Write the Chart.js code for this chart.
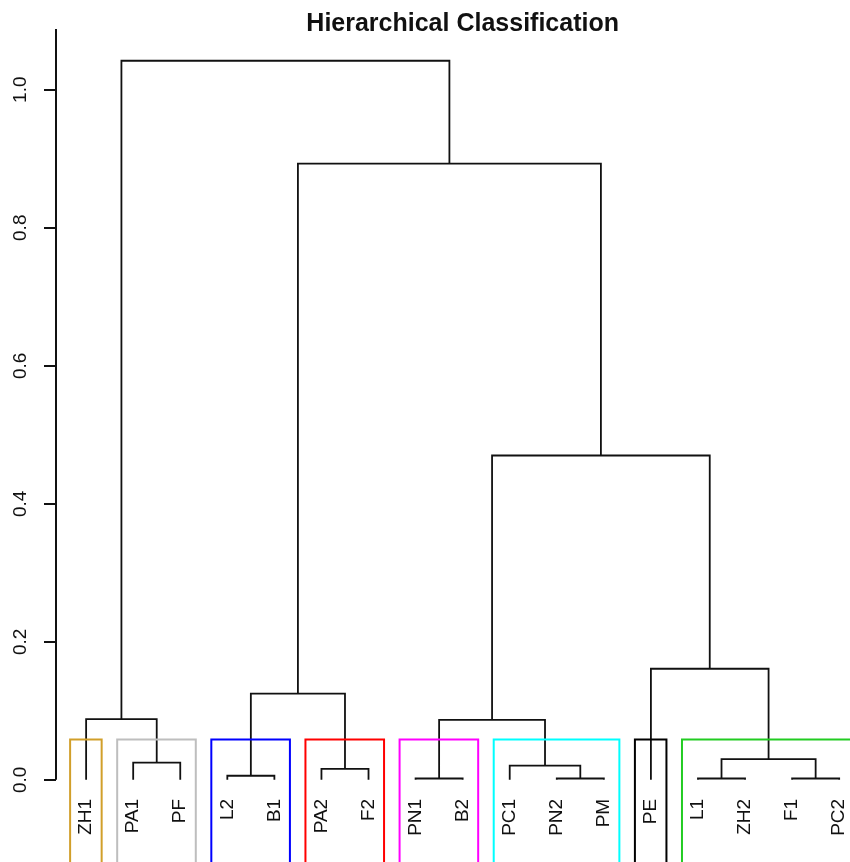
<!DOCTYPE html>
<html>
<head>
<meta charset="utf-8">
<title>Hierarchical Classification</title>
<script src="https://cdn.jsdelivr.net/npm/chart.js@4.4.1/dist/chart.umd.min.js"></script>
<style>
  html, body { margin: 0; padding: 0; background: #fff; }
  canvas { display: block; }
</style>
</head>
<body>
<canvas id="dendro" width="850" height="862"></canvas>
<script>
// leaves in plotted order
const leafLabels = ["ZH1", "PA1", "PF", "L2", "B1", "PA2", "F2", "PN1", "B2",
  "PC1", "PN2", "PM", "PE", "L1", "ZH2", "F1", "PC2"];

// merge steps like R's hclust: negative = leaf number (1-based), positive = earlier step
const mergeLeft   = [-8, -11, -14, -16, -4, -6, -10, -2, 3, 1, -1, 5, -13, 10, 12, 11];
const mergeRight  = [-9, -12, -15, -17, -5, -7, 2, -3, 4, 7, 8, 6, 9, 13, 14, 15];
const mergeHeight = [0.002, 0.002, 0.002, 0.002, 0.006, 0.016, 0.0205, 0.025,
  0.030, 0.087, 0.088, 0.125, 0.161, 0.470, 0.893, 1.042];

// rect.hclust(k = 8) groups, left to right
const clusterSizes  = [1, 2, 2, 2, 2, 3, 1, 4];
const clusterColors = ["#D19F2A", "#BEBEBE", "#0000FF", "#FF0000", "#FF00FF", "#00FFFF", "#000000", "#22CC22"];

const yTicks = [0, 0.2, 0.4, 0.6, 0.8, 1.0];
const chartTitle = "Hierarchical Classification";

const Y_MIN = -0.119, Y_MAX = 1.130;
const AXIS_TOP = 1.088;

// node positions
const nodeX = [], nodeH = [];
function childPos(c) {
  if (c < 0) return { x: -c, h: 0 };
  return { x: nodeX[c - 1], h: nodeH[c - 1] };
}
const datasets = [];
for (let i = 0; i < mergeHeight.length; i++) {
  const a = childPos(mergeLeft[i]);
  const b = childPos(mergeRight[i]);
  const h = mergeHeight[i];
  nodeX.push((a.x + b.x) / 2);
  nodeH.push(h);
  datasets.push({
    data: [{ x: a.x, y: a.h }, { x: a.x, y: h }, { x: b.x, y: h }, { x: b.x, y: b.h }],
    borderColor: "#111",
    borderWidth: 1.8,
    order: 1
  });
}

// cut height for k groups, same as rect.hclust
const k = clusterSizes.length;
const sortedH = [...mergeHeight].sort((p, q) => q - p);
const boxTop = (sortedH[k - 2] + sortedH[k - 1]) / 2;
let start = 0;
clusterSizes.forEach((n, i) => {
  const left = start + 0.66;
  const right = start + n + 0.33;
  datasets.push({
    data: [{ x: left, y: Y_MIN - 0.05 }, { x: left, y: boxTop }, { x: right, y: boxTop }, { x: right, y: Y_MIN - 0.05 }],
    borderColor: clusterColors[i],
    borderWidth: 2,
    order: 0
  });
  start += n;
});

const extras = {
  id: "extras",
  afterDraw(chart) {
    const ctx = chart.ctx;
    const xs = chart.scales.x, ys = chart.scales.y;
    ctx.save();
    // y axis line
    ctx.strokeStyle = "#111";
    ctx.lineWidth = 2;
    ctx.beginPath();
    ctx.moveTo(ys.right, ys.getPixelForValue(0));
    ctx.lineTo(ys.right, ys.getPixelForValue(AXIS_TOP));
    ctx.stroke();

    // title, centred over the full plot region like R
    const centre = (xs.getPixelForValue(0.36) + xs.getPixelForValue(leafLabels.length + 0.64)) / 2;
    ctx.fillStyle = "#111";
    ctx.font = "bold 25px 'Liberation Sans', Arial, sans-serif";
    ctx.textAlign = "center";
    ctx.textBaseline = "middle";
    ctx.fillText(chartTitle, centre, 24);

    // leaf labels, rotated
    ctx.font = "19px 'Liberation Sans', Arial, sans-serif";
    ctx.textAlign = "right";
    const y0 = ys.getPixelForValue(0) + 19;
    leafLabels.forEach((lab, i) => {
      ctx.save();
      ctx.translate(xs.getPixelForValue(i + 1), y0);
      ctx.rotate(-Math.PI / 2);
      ctx.fillText(lab, 0, 0);
      ctx.restore();
    });
    ctx.restore();
  }
};

new Chart(document.getElementById("dendro"), {
  type: "scatter",
  data: { datasets },
  options: {
    responsive: false,
    animation: false,
    showLine: true,
    elements: { point: { radius: 0, hoverRadius: 0 }, line: { tension: 0 } },
    layout: { padding: 0 },
    plugins: { legend: { display: false }, tooltip: { enabled: false }, title: { display: false } },
    scales: {
      x: { type: "linear", min: 0.36, max: 17.23, display: false },
      y: {
        type: "linear",
        position: "left",
        min: Y_MIN,
        max: Y_MAX,
        border: { display: false },
        grid: { drawOnChartArea: false, drawTicks: true, tickLength: 12, color: "#111", lineWidth: 2 },
        ticks: {
          minRotation: 90,
          maxRotation: 90,
          crossAlign: "center",
          padding: 10,
          color: "#111",
          font: { family: "'Liberation Sans', Arial, sans-serif", size: 19 },
          callback: (v) => Number(v).toFixed(1)
        },
        afterBuildTicks: (scale) => { scale.ticks = yTicks.map((v) => ({ value: v })); },
        afterFit: (scale) => { scale.width = 56; scale.paddingTop = 0; scale.paddingBottom = 0; }
      }
    }
  },
  plugins: [extras]
});
</script>
</body>
</html>
